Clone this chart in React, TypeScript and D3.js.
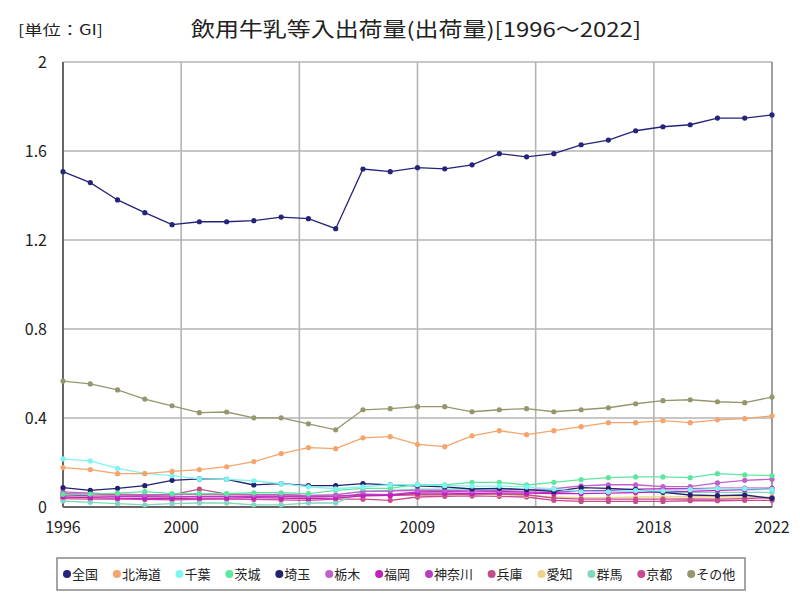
import React from "react";
import * as d3 from "d3";

const years = [1996,1997,1998,1999,2000,2001,2002,2003,2004,2005,2006,2007,2008,2009,2010,2011,2012,2013,2014,2015,2016,2017,2018,2019,2020,2021,2022];

const seriesNames = ["全国","北海道","千葉","茨城","埼玉","栃木","福岡","神奈川","兵庫","愛知","群馬","京都","その他"];
const seriesColors = ["#25237a","#f4a46c","#7ef5f0","#5ee6a0","#22226e","#c060cc","#c020c0","#b83cc4","#c0508a","#eed48a","#80d8c0","#cc4890","#96966e"];

const zenkoku = [1.507,1.458,1.380,1.323,1.269,1.282,1.282,1.287,1.303,1.296,1.251,1.519,1.507,1.525,1.520,1.538,1.588,1.574,1.588,1.628,1.649,1.691,1.709,1.718,1.748,1.748,1.762];
const hokkaido = [0.177,0.168,0.150,0.150,0.160,0.168,0.181,0.204,0.240,0.267,0.262,0.311,0.316,0.281,0.271,0.320,0.343,0.325,0.343,0.361,0.379,0.379,0.388,0.379,0.392,0.397,0.410];
const chiba = [0.216,0.207,0.174,0.151,0.141,0.126,0.124,0.118,0.105,0.091,0.082,0.091,0.100,0.100,0.096,0.094,0.094,0.090,0.081,0.068,0.068,0.074,0.072,0.078,0.083,0.083,0.079];
const ibaraki = [0.057,0.058,0.062,0.069,0.060,0.060,0.060,0.064,0.064,0.060,0.075,0.084,0.084,0.102,0.099,0.111,0.111,0.099,0.111,0.123,0.132,0.135,0.135,0.132,0.150,0.144,0.141];
const saitama = [0.087,0.075,0.084,0.096,0.120,0.126,0.124,0.099,0.105,0.096,0.096,0.105,0.099,0.095,0.090,0.081,0.084,0.078,0.070,0.087,0.084,0.078,0.066,0.054,0.051,0.054,0.039];
const tochigi = [0.068,0.062,0.058,0.055,0.055,0.058,0.056,0.055,0.055,0.052,0.055,0.070,0.072,0.075,0.075,0.072,0.075,0.078,0.082,0.095,0.100,0.100,0.092,0.092,0.108,0.120,0.125];
const fukuoka = [0.045,0.042,0.040,0.038,0.038,0.040,0.040,0.042,0.040,0.038,0.040,0.050,0.052,0.062,0.062,0.060,0.062,0.062,0.060,0.060,0.062,0.065,0.068,0.070,0.075,0.078,0.080];
const kanagawa = [0.055,0.050,0.048,0.046,0.045,0.048,0.048,0.046,0.048,0.045,0.048,0.058,0.055,0.068,0.070,0.068,0.070,0.068,0.065,0.072,0.075,0.080,0.082,0.082,0.085,0.085,0.085];
const hyogo = [0.060,0.058,0.055,0.052,0.055,0.080,0.058,0.055,0.055,0.050,0.050,0.052,0.052,0.055,0.055,0.058,0.058,0.055,0.040,0.035,0.035,0.035,0.035,0.036,0.035,0.038,0.042];
const aichi = [0.050,0.048,0.050,0.048,0.046,0.048,0.050,0.048,0.046,0.046,0.048,0.050,0.052,0.054,0.056,0.058,0.055,0.052,0.045,0.042,0.042,0.045,0.045,0.046,0.046,0.045,0.044];
const gunma = [0.027,0.021,0.015,0.010,0.015,0.018,0.018,0.010,0.010,0.018,0.018,0.070,0.075,0.080,0.080,0.082,0.080,0.078,0.072,0.070,0.070,0.068,0.066,0.066,0.066,0.066,0.065];
const kyoto = [0.038,0.035,0.035,0.034,0.032,0.034,0.035,0.034,0.032,0.030,0.035,0.035,0.030,0.045,0.048,0.050,0.048,0.045,0.030,0.025,0.025,0.025,0.025,0.028,0.028,0.030,0.030];
const sonota = [0.566,0.553,0.526,0.485,0.455,0.424,0.427,0.401,0.401,0.374,0.347,0.437,0.442,0.451,0.451,0.428,0.437,0.442,0.428,0.437,0.446,0.464,0.478,0.482,0.473,0.469,0.494];

const seriesValues = [zenkoku,hokkaido,chiba,ibaraki,saitama,tochigi,fukuoka,kanagawa,hyogo,aichi,gunma,kyoto,sonota];

const yTicks = [0,0.4,0.8,1.2,1.6,2];
const titleText = "飲用牛乳等入出荷量(出荷量)[1996～2022]";
const unitText = "[単位：GI]";

const FONT = "'Noto Sans CJK JP', 'Noto Sans', sans-serif";

export default function App() {
  const W = 800, H = 600;
  const left = 63, right = 772, top = 62, bottom = 507;
  const x = d3.scaleLinear().domain([1996, 2022]).range([left, right]);
  const y = d3.scaleLinear().domain([0, 2]).range([bottom, top]);
  const xTicks = d3.range(7).map(i => 1996 + (26 * i) / 6);
  const line = d3.line<number>().x((_, i) => x(years[i])).y(v => y(v));

  // legend layout
  const legendStart = 67;
  const legendPos: number[] = [];
  let cx = legendStart;
  seriesNames.forEach(n => {
    legendPos.push(cx);
    cx += 24.5 + 12.7 * n.length;
  });

  const order = d3.range(seriesNames.length).reverse();

  return (
    <svg width={W} height={H} style={{ position: "absolute", left: 0, top: 0, background: "#fff" }} fontFamily={FONT}>
      <rect x={0} y={0} width={W} height={H} fill="#fff" />
      <text x={18} y={35} fontSize={14} textLength={85} lengthAdjust="spacingAndGlyphs" fill="#222">{unitText}</text>
      <text x={416} y={37} fontSize={20} textAnchor="middle" textLength={450} lengthAdjust="spacingAndGlyphs" fill="#222">{titleText}</text>

      {/* grid */}
      {yTicks.map(t => (
        <line key={"gy" + t} x1={left} x2={right} y1={y(t)} y2={y(t)} stroke="#b4b4b4" strokeWidth={1.6} />
      ))}
      {xTicks.map((t, i) => (
        <line key={"gx" + i} x1={x(t)} x2={x(t)} y1={top} y2={bottom} stroke={i === 6 ? "#888" : "#b4b4b4"} strokeWidth={1.6} />
      ))}
      <line x1={left} x2={left} y1={top} y2={bottom} stroke="#666" strokeWidth={2} />
      <line x1={left} x2={right} y1={bottom} y2={bottom} stroke="#666" strokeWidth={2} />

      {/* axis labels */}
      {yTicks.map(t => (
        <text key={"yl" + t} x={47} y={y(t) + 6} fontSize={16} textAnchor="end" fill="#222">{d3.format("~g")(t)}</text>
      ))}
      {xTicks.map((t, i) => (
        <text key={"xl" + i} x={x(t)} y={533} fontSize={16} textAnchor="middle" fill="#222">{Math.round(t)}</text>
      ))}

      {/* series */}
      {order.map(si => (
        <g key={"s" + si}>
          <path d={line(seriesValues[si]) || ""} fill="none" stroke={seriesColors[si]} strokeWidth={1.3} />
          {seriesValues[si].map((v, i) => (
            <circle key={i} cx={x(years[i])} cy={y(v)} r={2.6} fill={seriesColors[si]} />
          ))}
        </g>
      ))}

      {/* legend */}
      <rect x={57} y={558} width={688} height={32} fill="#fff" stroke="#888" strokeWidth={1.5} />
      {seriesNames.map((n, i) => (
        <g key={"lg" + i}>
          <circle cx={legendPos[i]} cy={574} r={4} fill={seriesColors[i]} />
          <text x={legendPos[i] + 5} y={579} fontSize={13} fill="#222">{n}</text>
        </g>
      ))}
    </svg>
  );
}
